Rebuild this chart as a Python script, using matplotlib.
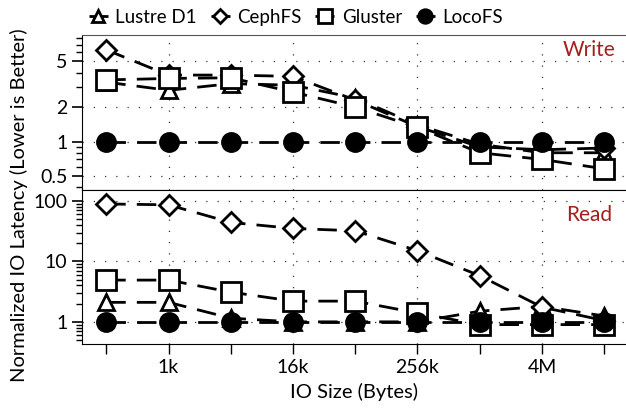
import matplotlib.pyplot as plt
import matplotlib.ticker as mticker
import numpy as np

plt.rcParams['font.family'] = ['Lato', 'DejaVu Sans']

# IO sizes in bytes
io_size = [256, 1024, 4096, 16384, 65536, 262144, 1048576, 4194304, 16777216]

# normalized write latency
write_lustre = [3.3, 2.8, 3.2, 3.1, 2.4, 1.4, 0.95, 0.8, 0.8]
write_ceph = [6.3, 3.8, 3.8, 3.7, 2.3, 1.35, 0.9, 0.85, 0.88]
write_gluster = [3.45, 3.55, 3.6, 2.7, 2.0, 1.33, 0.8, 0.7, 0.58]
write_loco = [1, 1, 1, 1, 1, 1, 1, 1, 1]

# normalized read latency
read_lustre = [2.1, 2.1, 1.15, 1.0, 1.0, 1.0, 1.5, 1.8, 1.25]
read_ceph = [89, 86, 44, 35, 32, 15, 5.8, 1.75, 1.05]
read_gluster = [4.9, 4.9, 3.1, 2.2, 2.2, 1.4, 0.9, 0.9, 0.9]
read_loco = [1, 1, 1, 1, 1, 1, 1, 1, 1]

names = ['Lustre D1', 'CephFS', 'Gluster', 'LocoFS']
markers = ['^', 'D', 's', 'o']
msizes = [12, 10, 14, 13]
fills = ['white', 'white', 'white', 'black']

xticks_major = [1024, 16384, 262144, 4194304]
xlabels = ['1k', '16k', '256k', '4M']
xticks_minor = [256, 4096, 65536, 1048576, 16777216]

fig = plt.figure(figsize=(6.26, 4.11), dpi=100)
ax1 = fig.add_axes([0.131, 0.538, 0.869, 0.377])
ax2 = fig.add_axes([0.131, 0.163, 0.869, 0.375], sharex=ax1)

def draw(ax, series):
    handles = []
    for ys, name, m, ms, fc in zip(series, names, markers, msizes, fills):
        h, = ax.plot(io_size, ys, color='black', lw=2, dashes=(7, 4),
                     marker=m, markersize=ms, markerfacecolor=fc,
                     markeredgecolor='black', markeredgewidth=2, label=name)
        handles.append(h)
    ax.set_xscale('log', base=2)
    ax.set_yscale('log')
    ax.grid(True, which='major', linestyle=(0, (1, 8)), color='#333333', lw=0.9)
    ax.spines['right'].set_visible(False)
    ax.tick_params(axis='y', which='major', direction='out', length=7, width=1.2, labelsize=14)
    ax.tick_params(axis='y', which='minor', direction='out', length=4, width=1)
    ax.tick_params(axis='x', which='both', direction='out', length=7, width=1, labelsize=14)
    return handles

handles = draw(ax1, [write_lustre, write_ceph, write_gluster, write_loco])
draw(ax2, [read_lustre, read_ceph, read_gluster, read_loco])
ax1.spines['top'].set_color('#555555')
ax1.tick_params(axis='x', which='minor', length=0)

ax1.set_xlim(256 / 4 ** 0.39, 16777216 * 4 ** 0.35)
ax1.set_xticks(xticks_major)
ax1.set_xticks(xticks_minor, minor=True)
ax1.xaxis.set_minor_formatter(mticker.NullFormatter())
ax2.set_xticklabels(xlabels)
plt.setp(ax1.get_xticklabels(), visible=False)

ax1.set_ylim(0.38, 8.5)
ax1.set_yticks([0.5, 1, 2, 5])
ax1.set_yticklabels(['0.5', '1', '2', '5'])
ax1.yaxis.set_minor_formatter(mticker.NullFormatter())

ax2.set_ylim(0.43, 152)
ax2.set_yticks([1, 10, 100])
ax2.set_yticklabels(['1', '10', '100'])
ax2.yaxis.set_minor_formatter(mticker.NullFormatter())

ax1.text(0.98, 0.965, 'Write', transform=ax1.transAxes, ha='right', va='top',
         color='#a3201c', fontsize=15)
ax2.text(0.975, 0.905, 'Read', transform=ax2.transAxes, ha='right', va='top',
         color='#a3201c', fontsize=15)

ax2.set_xlabel('IO Size (Bytes)', fontsize=14.5, labelpad=5)
fig.text(0.03, 0.5, 'Normalized IO Latency (Lower is Better)', rotation=90,
         ha='center', va='center', fontsize=14.5)

fig.legend(handles=handles, loc='upper left', bbox_to_anchor=(0.115, 1.02), ncol=4,
           frameon=False, fontsize=13.5, handlelength=1.0, handletextpad=0.4,
           columnspacing=0.75, numpoints=1, markerscale=0.75)

fig.savefig('out.png', dpi=100)
